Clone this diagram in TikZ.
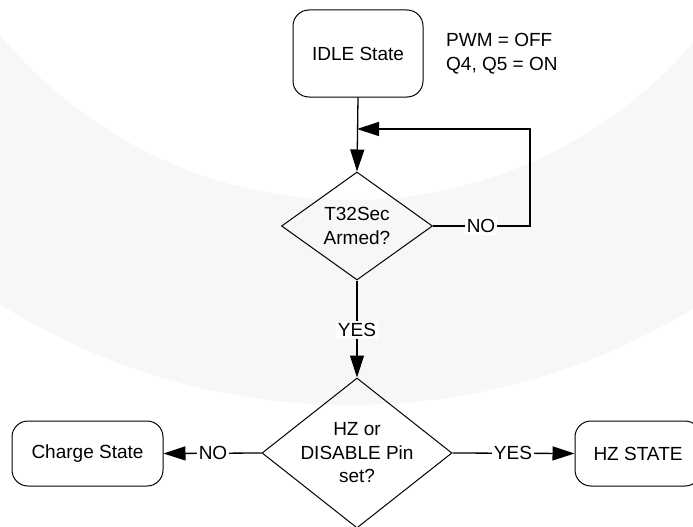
\documentclass[tikz,border=0pt]{standalone}
\usepackage{fontspec}
\setmainfont{Liberation Sans}
\usetikzlibrary{shapes.geometric,arrows.meta}
\begin{document}
\begin{tikzpicture}[x=1pt,y=-1pt,
  every node/.style={font=\fontsize{19}{23.5}\selectfont},
  statebox/.style={draw, rounded corners=16pt, line width=1pt, align=center, inner sep=0pt},
  decide/.style={draw, diamond, line width=1pt, inner sep=0pt},
  conn/.style={line width=1.3pt},
  arr/.style={conn, -{Triangle[length=22pt,width=14pt]}},
  lab/.style={fill=white, inner sep=2pt}]
\useasboundingbox (0,0) rectangle (693,527);
\clip (0,0) rectangle (693,527);
% faint background ring
\fill[black!3, even odd rule] (350,-253) circle (658pt) (350,-253) circle (453pt);
% nodes
\node[statebox, minimum width=130pt, minimum height=87pt] (idle) at (358,53.5) {IDLE State};
\node[anchor=west, align=left, inner sep=0pt] (pwm) at (446,53.5) {PWM = OFF\\Q4, Q5 = ON};
\node[decide, minimum width=151pt, minimum height=108pt] (d1) at (357,226) {};
\node[align=center, inner sep=0pt] (d1t) at (d1) {T32Sec\\Armed?};
\node[decide, minimum width=190pt, minimum height=150pt] (d2) at (357,453) {};
\node[align=center, inner sep=0pt] (d2t) at (d2) {HZ or\\DISABLE Pin\\set?};
\node[statebox, minimum width=151pt, minimum height=65pt] (chg) at (87.5,453.5) {Charge State};
\node[statebox, minimum width=126pt, minimum height=65pt] (hz) at (638,453.5) {HZ STATE};
\coordinate (j) at (357,129);
\coordinate (loopc) at (530,129);
% connectors
\draw[arr] (idle.south) -- (d1.north);
\draw[arr] (d1.east) -| (loopc) -- (j);
\draw[arr] (d1.south) -- (d2.north);
\draw[arr] (d2.west) -- (chg.east);
\draw[arr] (d2.east) -- (hz.west);
% labels
\node[lab] (no1) at (481,226) {NO};
\node[lab] (yes1) at (357,330) {YES};
\node[lab] (no2) at (213,453) {NO};
\node[lab] (yes2) at (513,453) {YES};
\end{tikzpicture}
\end{document}
